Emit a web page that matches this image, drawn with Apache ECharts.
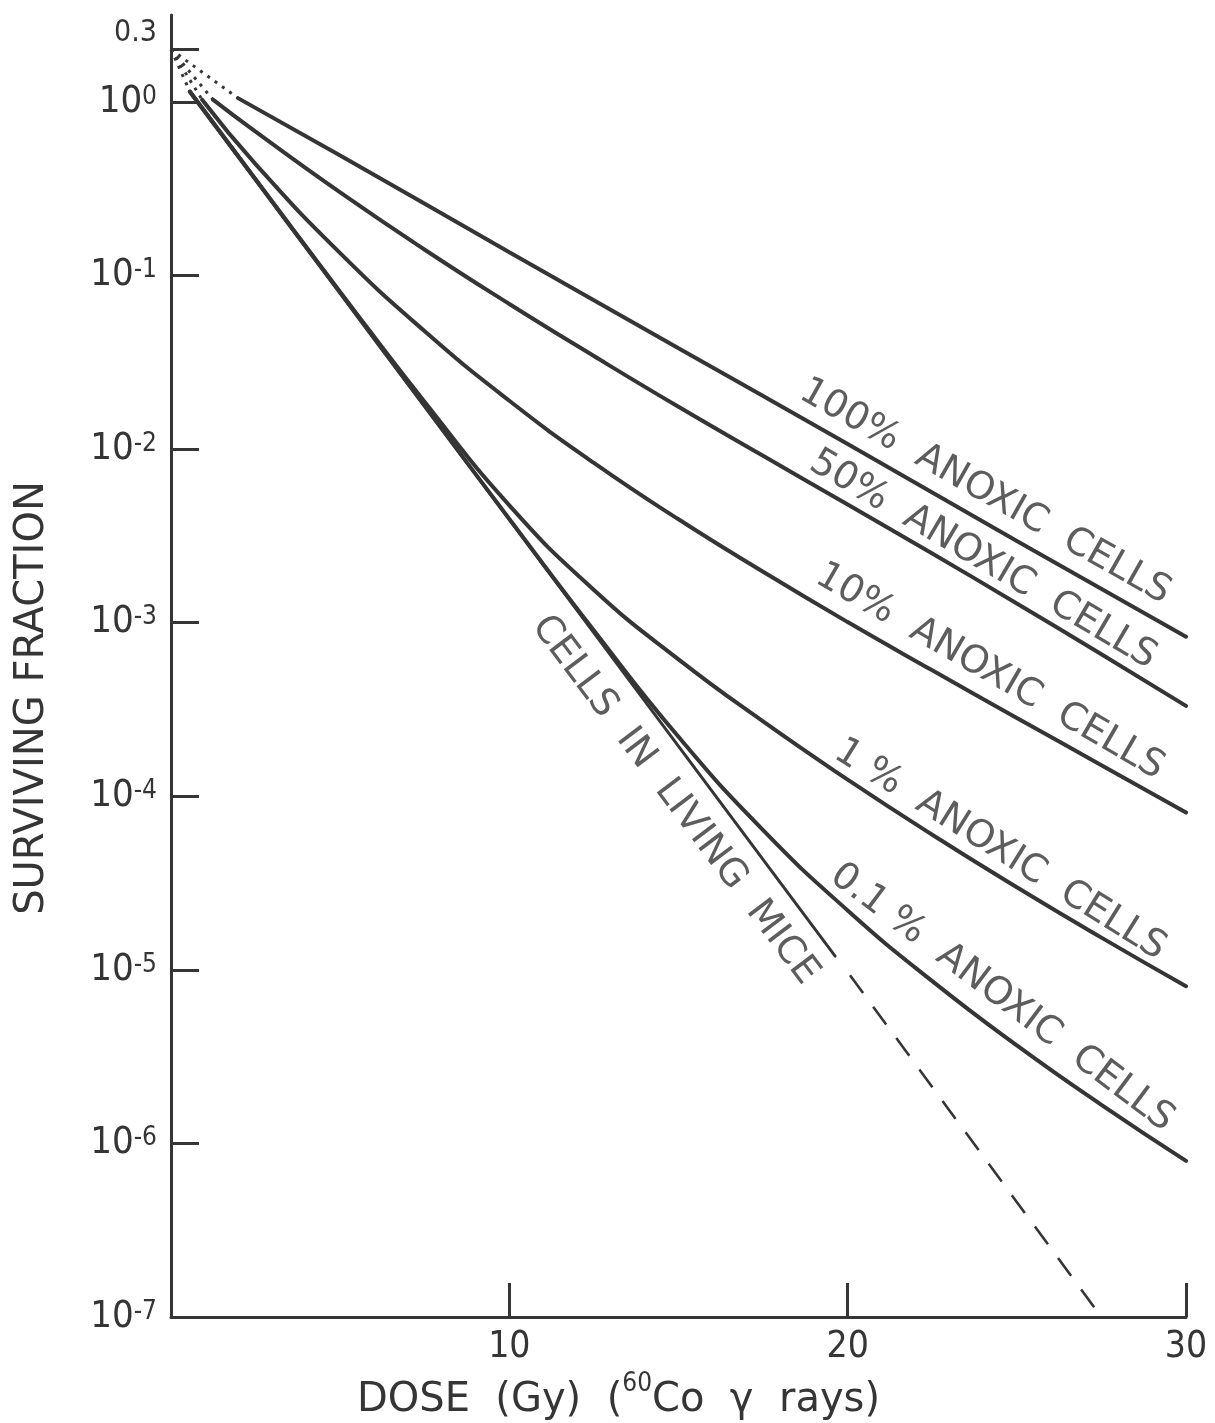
<!DOCTYPE html>
<html>
<head>
<meta charset="utf-8">
<script src="https://cdn.jsdelivr.net/npm/echarts@6/dist/echarts.min.js"></script>
<style>
html,body{margin:0;padding:0;background:#ffffff;}
#chart{width:1215px;height:1423px;}
</style>
</head>
<body>
<div id="chart"></div>
<script>
// ---------------- data (dose in Gy, surviving fraction) ----------------
const doseTicks = [0, 10, 20, 30];
const sfTickExponents = [-7, -6, -5, -4, -3, -2, -1, 0, 0.3];

const extrapolationDose = 0;
const extrapolationSF = 2.0;

const anoxic100Dose = [1.98, 5, 10, 15, 20, 25, 30];
const anoxic100SF   = [1.05, 0.49, 0.136, 0.038, 0.0107, 0.00295, 0.00083];

const anoxic50Dose = [1.24, 2.5, 5, 7.5, 10, 12.5, 15, 17.5, 20, 22.5, 25, 27.5, 30];
const anoxic50SF   = [1.03, 0.673, 0.3006, 0.1406, 0.06845, 0.03431, 0.0175, 0.009131, 0.00479, 0.0025, 0.001289, 0.0006577, 0.0003314];

const anoxic10Dose = [0.92, 2.5, 5, 7.5, 10, 12.5, 15, 17.5, 20, 22.5, 25, 27.5, 30];
const anoxic10SF   = [1.028, 0.4375, 0.1343, 0.04764, 0.01897, 0.008318, 0.003936, 0.001963, 0.001007, 0.000531, 0.0002825, 0.0001509, 0.0000805];

const anoxic1Dose = [0.56, 2.5, 5, 7.5, 10, 12.5, 15, 17.5, 20, 22.5, 25, 27.5, 30];
const anoxic1SF   = [1.143, 0.3573, 0.0804, 0.01864, 0.004736, 0.001542, 0.000614, 0.0002694, 0.0001246, 0.00005998, 0.00002989, 0.00001532, 0.000008042];

const anoxic01Dose = [0.56, 2.5, 5, 7.5, 10, 12.5, 15, 17.5, 20, 22.5, 25, 27.5, 30];
const anoxic01SF   = [1.143, 0.3565, 0.07932, 0.01766, 0.003954, 0.0009007, 0.0002198, 0.00006374, 0.00002198, 0.0000086, 0.000003667, 0.000001667, 0.0000007932];

const miceDose = [0.56, 19.63];
const miceSF   = [1.143, 0.000012];
const miceExtrapDose = [20.07, 27.5];
const miceExtrapSF   = [0.0000093, 0.0000001];

const curveLabels = [
  '100%  ANOXIC  CELLS',
  '50%  ANOXIC  CELLS',
  '10%  ANOXIC  CELLS',
  '1 %  ANOXIC  CELLS',
  '0.1 %  ANOXIC  CELLS',
  'CELLS  IN  LIVING  MICE'
];

// annotation placement (data units) and angles
const annotation = {
  dose:  [24.06, 24.0, 24.2, 24.5, 24.56, 14.89],
  sf:    [0.00566, 0.0023, 0.00052, 0.000049, 0.0000069, 0.000095],
  angle: [-29.5, -30.5, -30, -32, -37, -53]
};

// ---------------- styling ----------------
const INK = '#353535';
const log10 = v => Math.log10(v);
const pts = (xs, ys) => xs.map((x, i) => [x, log10(ys[i])]);

function solid(name, xs, ys, width) {
  return {
    name: name, type: 'line', data: pts(xs, ys),
    showSymbol: false, symbol: 'none', smooth: 0.5,
    lineStyle: { color: INK, width: width, cap: 'round' },
    silent: true, z: 3
  };
}
function dotted(xs, ys) {
  return {
    type: 'line', data: [[extrapolationDose, log10(extrapolationSF)], [xs[0], log10(ys[0])]],
    showSymbol: false, symbol: 'none',
    lineStyle: { color: INK, width: 3, type: [3, 6] },
    silent: true, z: 2
  };
}

const series = [
  dotted(anoxic100Dose, anoxic100SF),
  dotted(anoxic50Dose, anoxic50SF),
  dotted(anoxic10Dose, anoxic10SF),
  dotted(anoxic1Dose, anoxic1SF),
  solid('100% anoxic', anoxic100Dose, anoxic100SF, 4),
  solid('50% anoxic', anoxic50Dose, anoxic50SF, 4),
  solid('10% anoxic', anoxic10Dose, anoxic10SF, 4),
  solid('1% anoxic', anoxic1Dose, anoxic1SF, 4),
  solid('0.1% anoxic', anoxic01Dose, anoxic01SF, 4),
  solid('cells in living mice', miceDose, miceSF, 3),
  {
    name: 'mice extrapolation', type: 'line', data: pts(miceExtrapDose, miceExtrapSF),
    showSymbol: false, symbol: 'none',
    lineStyle: { color: INK, width: 2.6, type: [22, 17] },
    silent: true, z: 3
  },
  {
    type: 'scatter', symbolSize: 1, itemStyle: { color: 'rgba(0,0,0,0)' }, silent: true, z: 6,
    label: { show: true, position: 'inside', color: INK, fontSize: 38, fontFamily: 'DejaVu Sans' },
    data: curveLabels.map((t, i) => ({
      value: [annotation.dose[i], log10(annotation.sf[i])],
      label: { show: true, formatter: t, rotate: annotation.angle[i] }
    }))
  }
];

const option = {
  animation: false,
  backgroundColor: '#ffffff',
  grid: { left: 171, right: 29, top: 15, bottom: 106, containLabel: false, outerBoundsMode: 'none' },
  xAxis: {
    type: 'value', min: 0, max: 30, interval: 10,
    axisLine: { show: true, onZero: false, lineStyle: { color: INK, width: 3 } },
    axisTick: { show: true, inside: true, length: 34, lineStyle: { color: INK, width: 3 } },
    axisLabel: {
      margin: 12, color: INK, fontSize: 37, fontFamily: 'DejaVu Sans Condensed',
      formatter: v => (v === 0 ? '' : String(v))
    },
    splitLine: { show: false },
    name: '{n|DOSE  (Gy)  (}{s|60}{n|Co  \u03b3  rays)}',
    nameLocation: 'middle', nameGap: 47,
    nameTextStyle: {
      padding: [0, 120, 0, 0],
      rich: {
        n: { fontSize: 40, fontFamily: 'DejaVu Sans', color: INK, lineHeight: 60 },
        s: { fontSize: 26, fontFamily: 'DejaVu Sans Condensed', color: INK, lineHeight: 12, verticalAlign: 'top' }
      }
    }
  },
  yAxis: {
    type: 'value', min: -7, max: 0.5, interval: 1,
    axisLine: { show: true, onZero: false, lineStyle: { color: INK, width: 3 } },
    axisTick: { show: true, inside: true, length: 28, lineStyle: { color: INK, width: 3 }, customValues: sfTickExponents },
    axisLabel: {
      customValues: sfTickExponents, margin: 14, hideOverlap: false,
      formatter: v => (Math.abs(v - 0.3) < 1e-6 ? '{t|0.3}' : '{b|10}{s|' + v + '}'),
      rich: {
        b: { fontSize: 38, fontFamily: 'DejaVu Sans Condensed', color: INK, lineHeight: 36 },
        s: { fontSize: 26, fontFamily: 'DejaVu Sans Condensed', color: INK, lineHeight: 10, verticalAlign: 'top' },
        t: { fontSize: 30, fontFamily: 'DejaVu Sans Condensed', color: INK, lineHeight: 24, padding: [0, 0, 34, 0] }
      }
    },
    splitLine: { show: false },
    name: 'SURVIVING FRACTION',
    nameLocation: 'middle', nameRotate: 90, nameGap: 116,
    nameTextStyle: { fontSize: 40, fontFamily: 'DejaVu Sans', color: INK, lineHeight: 44, padding: [0, 64, 0, 0] }
  },
  series: series
};

const chart = echarts.init(document.getElementById('chart'), null, { renderer: 'canvas' });
chart.setOption(option);
</script>
</body>
</html>
